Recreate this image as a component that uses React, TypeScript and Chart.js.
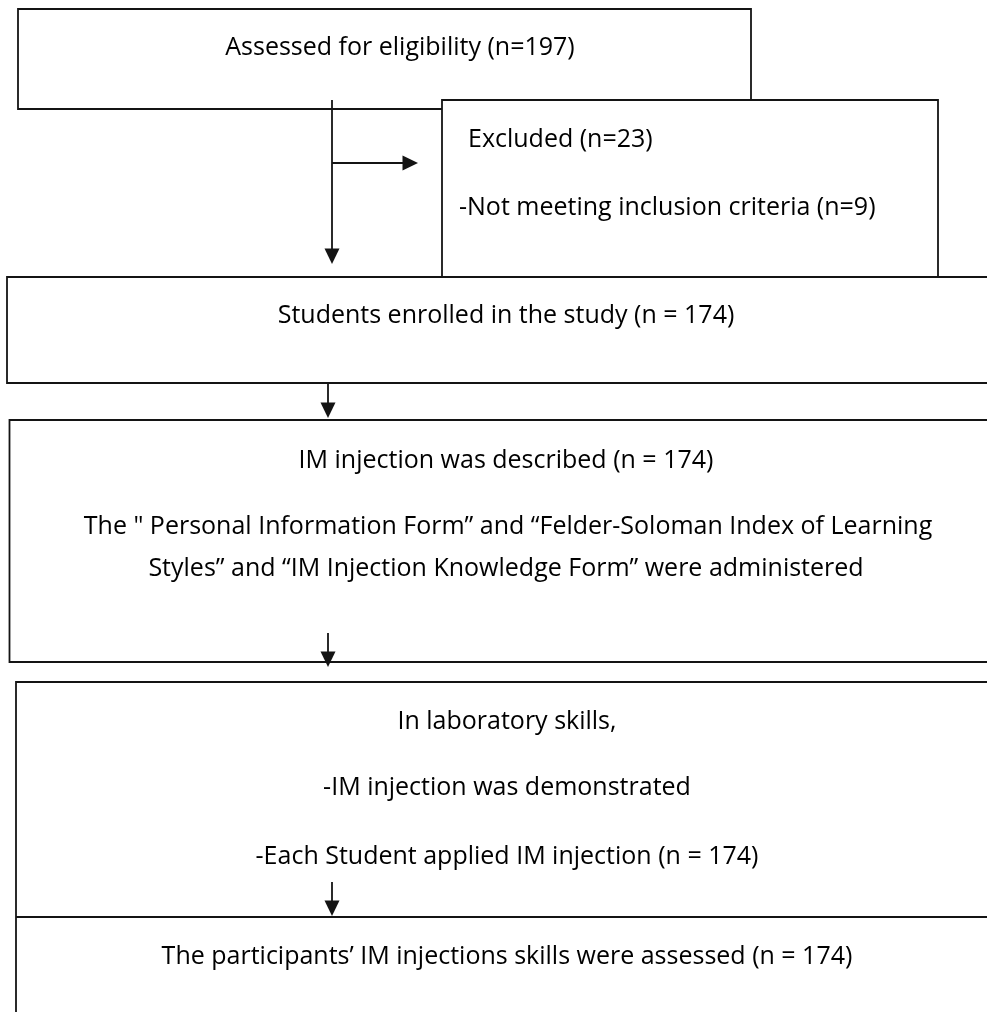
import React, { useEffect, useRef } from "react";
import { Chart, registerables } from "chart.js";

Chart.register(...registerables);

const PAGE_W = 987;
const PAGE_H = 1012;
const LINE_COLOR = "#141414";
const TEXT_COLOR = "#000000";
const FONT_FAMILY = "'Open Sans', Lato, sans-serif";
const FONT_SIZE = 25;

// Visible outline segments of each box (page units, y grows downwards)
const assessedFrame: number[][] = [[442, 109], [18, 109], [18, 9], [751, 9], [751, 100]];
const excludedFrame: number[][] = [[442, 277], [442, 100], [938, 100], [938, 277]];
const enrolledFrame: number[][] = [[1000, 277], [7, 277], [7, 383], [1000, 383]];
const describedFrame: number[][] = [[1000, 420], [9.5, 420], [9.5, 662], [1000, 662]];
const laboratoryFrame: number[][] = [[1000, 682], [16, 682], [16, 1030]];
const assessedSkillsTop: number[][] = [[16, 917], [1000, 917]];

// Arrow shafts
const arrowShafts: number[][][] = [
  [[332, 100], [332, 250]],
  [[332, 163], [405, 163]],
  [[328, 383], [328, 404]],
  [[328, 633], [328, 653]],
  [[332, 882], [332, 902]],
];

// Arrow tips
const arrowTipX = [332, 418, 328, 328, 332];
const arrowTipY = [264, 163, 418, 667, 916];
const arrowDir = ["down", "right", "down", "down", "down"];

// Text lines
const textStrings = [
  "Assessed for eligibility (n=197)",
  "Excluded (n=23)",
  "-Not meeting inclusion criteria (n=9)",
  "Students enrolled in the study (n = 174)",
  "IM injection was described (n = 174)",
  "The \" Personal Information Form\u201d and \u201cFelder-Soloman Index of Learning",
  "Styles\u201d and \u201cIM Injection Knowledge Form\u201d were administered",
  "In laboratory skills,",
  "-IM injection was demonstrated",
  "-Each Student applied IM injection (n = 174)",
  "The participants\u2019 IM injections skills were assessed (n = 174)",
];
const textX = [400, 468, 459, 506, 506, 508, 506, 507, 507, 507, 507];
const textY = [48, 140, 208, 316, 461, 527, 569, 722, 788, 857, 957];
const textAlign = ["center", "left", "left", "center", "center", "center", "center", "center", "center", "center", "center"];

const outlines = [
  assessedFrame,
  excludedFrame,
  enrolledFrame,
  describedFrame,
  laboratoryFrame,
  assessedSkillsTop,
  ...arrowShafts,
];

const flowPlugin = {
  id: "flowDecor",
  afterDatasetsDraw(chart: any) {
    const { ctx, scales } = chart;
    const sx = scales.x;
    const sy = scales.y;
    ctx.save();
    ctx.fillStyle = LINE_COLOR;
    arrowTipX.forEach((ax, i) => {
      const tx = sx.getPixelForValue(ax);
      const ty = sy.getPixelForValue(arrowTipY[i]);
      ctx.beginPath();
      if (arrowDir[i] === "down") {
        ctx.moveTo(tx, ty);
        ctx.lineTo(tx - 7.5, ty - 15.5);
        ctx.lineTo(tx + 7.5, ty - 15.5);
      } else {
        ctx.moveTo(tx, ty);
        ctx.lineTo(tx - 15.5, ty - 7.5);
        ctx.lineTo(tx - 15.5, ty + 7.5);
      }
      ctx.closePath();
      ctx.fill();
    });
    ctx.fillStyle = TEXT_COLOR;
    ctx.font = `${FONT_SIZE}px ${FONT_FAMILY}`;
    ctx.textBaseline = "middle";
    textStrings.forEach((t, i) => {
      ctx.textAlign = textAlign[i] as CanvasTextAlign;
      ctx.fillText(t, sx.getPixelForValue(textX[i]), sy.getPixelForValue(textY[i]));
    });
    ctx.restore();
  },
};

export default function App() {
  const canvasRef = useRef<HTMLCanvasElement | null>(null);

  useEffect(() => {
    const canvas = canvasRef.current;
    if (!canvas) return;
    const chart = new Chart(canvas, {
      type: "scatter",
      data: {
        datasets: outlines.map((pts, i) => ({
          label: `line${i}`,
          data: pts.map(([px, py]) => ({ x: px, y: py })),
          showLine: true,
          borderColor: LINE_COLOR,
          backgroundColor: LINE_COLOR,
          borderWidth: 1.8,
          pointRadius: 0,
          pointHoverRadius: 0,
          tension: 0,
          fill: false,
        })),
      },
      options: {
        animation: false,
        responsive: false,
        maintainAspectRatio: false,
        events: [],
        layout: { padding: 0 },
        plugins: {
          legend: { display: false },
          tooltip: { enabled: false },
        },
        scales: {
          x: { type: "linear", min: 0, max: PAGE_W, display: false },
          y: { type: "linear", min: 0, max: PAGE_H, reverse: true, display: false },
        },
      },
      plugins: [flowPlugin],
    });
    return () => chart.destroy();
  }, []);

  return (
    <div style={{ position: "absolute", left: 0, top: 0, width: PAGE_W, height: PAGE_H, background: "#fff" }}>
      <canvas ref={canvasRef} width={PAGE_W} height={PAGE_H} style={{ display: "block", width: PAGE_W, height: PAGE_H }} />
    </div>
  );
}
